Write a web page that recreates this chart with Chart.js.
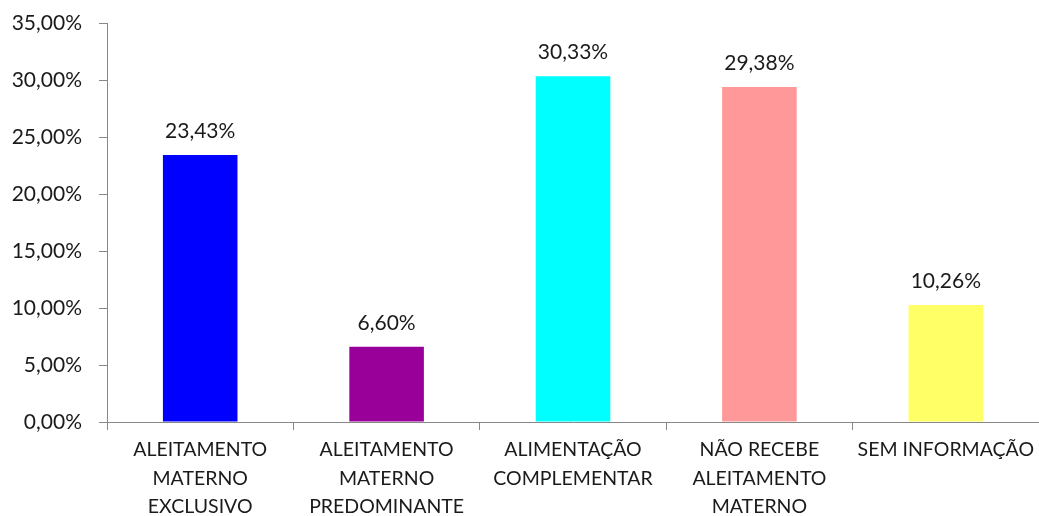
<!DOCTYPE html>
<html>
<head>
<meta charset="utf-8">
<script src="https://cdn.jsdelivr.net/npm/chart.js@4"></script>
<style>
  html, body { margin: 0; padding: 0; background: #fff; }
</style>
</head>
<body>
<canvas id="chart" width="1039" height="516"></canvas>
<script>
const categories = [
  ["ALEITAMENTO", "MATERNO", "EXCLUSIVO"],
  ["ALEITAMENTO", "MATERNO", "PREDOMINANTE"],
  ["ALIMENTAÇÃO", "COMPLEMENTAR"],
  ["NÃO RECEBE", "ALEITAMENTO", "MATERNO"],
  ["SEM INFORMAÇÃO"],
];
const values = [23.43, 6.60, 30.33, 29.38, 10.26];
const barColors = ["#0000ff", "#990099", "#00ffff", "#ff9999", "#ffff66"];

const FONT = "Lato, 'Open Sans', sans-serif";
const TEXT = "#1a1a1a";

const pct = (v) => v.toFixed(2).replace(".", ",") + "%";

// value labels above each bar
const valueLabels = {
  id: "value_labels",
  afterDatasetsDraw: (chart) => {
    const ctx = chart.ctx;
    const meta = chart.getDatasetMeta(0);
    ctx.save();
    ctx.fillStyle = TEXT;
    ctx.font = "21px " + FONT;
    ctx.textAlign = "center";
    ctx.textBaseline = "alphabetic";
    meta.data.forEach((bar, i) => {
      ctx.fillText(pct(values[i]), bar.x, bar.y - 17);
    });
    ctx.restore();
  },
};

new Chart(document.getElementById("chart"), {
  type: "bar",
  plugins: [valueLabels],
  data: {
    labels: categories,
    datasets: [
      {
        data: values,
        backgroundColor: barColors,
        borderWidth: 0,
        categoryPercentage: 1,
        barPercentage: 0.4,
      },
    ],
  },
  options: {
    responsive: false,
    animation: false,
    layout: { padding: { top: 23, right: 0, bottom: 0, left: 0 } },
    plugins: {
      legend: { display: false },
      tooltip: { enabled: false },
    },
    scales: {
      y: {
        min: 0,
        max: 35,
        ticks: {
          stepSize: 5,
          callback: (v) => pct(v),
          color: TEXT,
          padding: 17,
          font: { family: FONT, size: 21 },
        },
        grid: {
          drawOnChartArea: false,
          tickLength: 8,
          color: "#888",
        },
        border: { color: "#888", width: 1 },
        afterFit: (scale) => {
          scale.width = 107;
          scale.paddingTop = 0;
          scale.paddingBottom = 0;
        },
      },
      x: {
        ticks: {
          color: TEXT,
          padding: 6,
          maxRotation: 0,
          autoSkip: false,
          font: { family: FONT, size: 19.5, lineHeight: 1.45 },
        },
        grid: {
          drawOnChartArea: false,
          tickLength: 8,
          color: "#888",
        },
        border: { color: "#888", width: 1 },
        afterFit: (scale) => {
          scale.height = 94;
          scale.paddingLeft = 0;
          scale.paddingRight = 0;
        },
      },
    },
  },
});
</script>
</body>
</html>
